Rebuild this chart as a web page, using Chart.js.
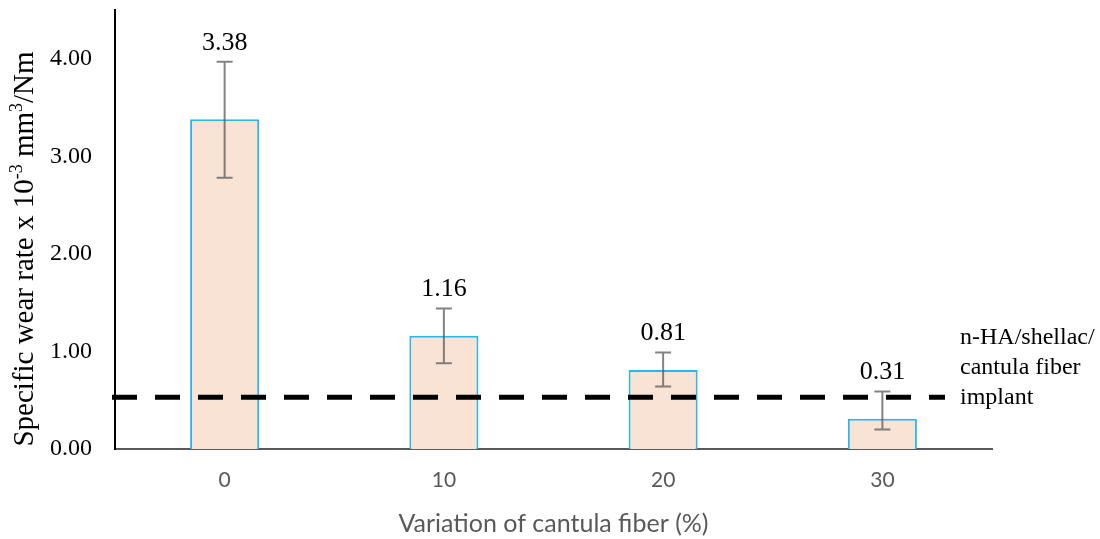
<!DOCTYPE html>
<html><head><meta charset="utf-8">
<script src="https://cdn.jsdelivr.net/npm/chart.js@4"></script>
<style>html,body{margin:0;padding:0;background:#fff}#wrap{width:1100px;height:539px}</style>
</head><body><div id="wrap"><canvas id="c"></canvas></div>
<script>
const categories = ['0', '10', '20', '30'];
const wearRate = [3.38, 1.16, 0.81, 0.31];
const errHigh = [3.97, 1.44, 0.99, 0.59];
const errLow = [2.78, 0.88, 0.64, 0.20];
const implantLevel = 0.53;
const implantLabel = ['n-HA/shellac/', 'cantula fiber', 'implant'];
const yTicks = [0, 1, 2, 3, 4];
// y title pieces: [text, isSuperscript]
const yTitleParts = [['Specific wear rate x 10', false], ['-3', true], [' mm', false], ['3', true], ['/Nm', false]];
const xTitle = 'Variation of cantula fiber (%)';

const serif = '"Liberation Serif", "Times New Roman", serif';
const sans = 'Lato, "Open Sans", sans-serif';

const overlay = {
  id: 'overlay',
  afterDatasetsDraw(chart) {
    const ctx = chart.ctx, x = chart.scales.x, y = chart.scales.y;
    ctx.save();
    // dashed reference line
    const yl = y.getPixelForValue(implantLevel);
    ctx.strokeStyle = '#000'; ctx.lineWidth = 5; ctx.setLineDash([25, 18]);
    ctx.beginPath(); ctx.moveTo(chart.chartArea.left - 3, yl); ctx.lineTo(945, yl); ctx.stroke();
    ctx.setLineDash([]);
    // error bars
    ctx.strokeStyle = 'rgba(90,90,90,0.75)'; ctx.lineWidth = 2;
    wearRate.forEach((v, i) => {
      const cx = x.getPixelForValue(i);
      const t = y.getPixelForValue(errHigh[i]), b = y.getPixelForValue(errLow[i]);
      ctx.beginPath();
      ctx.moveTo(cx, t); ctx.lineTo(cx, b);
      ctx.moveTo(cx - 8, t); ctx.lineTo(cx + 8, t);
      ctx.moveTo(cx - 8, b); ctx.lineTo(cx + 8, b);
      ctx.stroke();
    });
    // value labels
    ctx.fillStyle = '#000'; ctx.font = '26px ' + serif;
    ctx.textAlign = 'center'; ctx.textBaseline = 'middle';
    wearRate.forEach((v, i) => {
      const cx = x.getPixelForValue(i);
      ctx.fillText(v.toFixed(2), cx, y.getPixelForValue(errHigh[i]) - 19);
    });
    // implant label
    ctx.font = '24px ' + serif; ctx.textAlign = 'left';
    implantLabel.forEach((s, k) => ctx.fillText(s, 960, yl - 60 + k * 30));
    // y title with superscripts
    const big = '29px ' + serif, small = '18px ' + serif;
    let total = 0;
    yTitleParts.forEach(([t, sup]) => { ctx.font = sup ? small : big; total += ctx.measureText(t).width; });
    ctx.translate(33, 249); ctx.rotate(-Math.PI / 2);
    ctx.textBaseline = 'alphabetic'; ctx.textAlign = 'left';
    let px = -total / 2;
    yTitleParts.forEach(([t, sup]) => {
      ctx.font = sup ? small : big;
      ctx.fillText(t, px, sup ? -11 : 0);
      px += ctx.measureText(t).width;
    });
    ctx.restore();
  }
};

new Chart(document.getElementById('c'), {
  type: 'bar',
  data: {
    labels: categories,
    datasets: [{
      data: wearRate,
      backgroundColor: '#f9e3d5',
      borderColor: '#2cb7ea',
      borderWidth: 2,
      borderSkipped: 'bottom',
      categoryPercentage: 1,
      barPercentage: 0.315
    }]
  },
  options: {
    responsive: true, maintainAspectRatio: false, animation: false,
    layout: { padding: { left: 0, right: 108, top: 10, bottom: 0 } },
    plugins: { legend: { display: false }, tooltip: { enabled: false } },
    scales: {
      x: {
        grid: { display: false, drawTicks: false },
        border: { color: '#595959', width: 2 },
        ticks: { color: '#595959', font: { family: sans, size: 21 }, padding: 19 },
        title: { display: true, text: xTitle, color: '#595959', font: { family: sans, size: 25 }, padding: { top: 8, bottom: 0 } },
        afterFit(s) { s.height = 90; }
      },
      y: {
        min: 0, max: 4.5,
        grid: { display: false, drawTicks: false },
        border: { color: '#000', width: 2 },
        afterBuildTicks(s) { s.ticks = yTicks.map(v => ({ value: v })); },
        ticks: { color: '#000', font: { family: serif, size: 24 }, padding: 23, callback: v => Number(v).toFixed(2) },
        afterFit(s) { s.width = 115; s.paddingTop = 0; s.paddingBottom = 0; }
      }
    }
  },
  plugins: [overlay]
});
</script></body></html>
